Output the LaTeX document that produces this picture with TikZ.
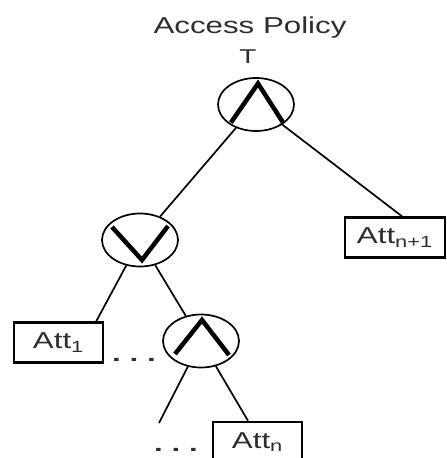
\documentclass[tikz,border=0pt]{standalone}
\usepackage{fontspec}
\setmainfont{Liberation Sans}
\usetikzlibrary{shapes.geometric}
\begin{document}
\begin{tikzpicture}[x=1pt,y=-1pt,
  gate/.style={ellipse, draw, line width=1.7pt, minimum width=76pt, minimum height=53pt, inner sep=0pt},
  attbox/.style={rectangle, draw=black, line width=2.4pt, minimum height=40pt, inner sep=0pt},
  edge/.style={line width=1.7pt},
  glyph/.style={line width=4.5pt, line cap=butt, line join=miter},
  lbl/.style={inner sep=0pt, text=black!82, font=\fontsize{23}{26}\selectfont}
]
\useasboundingbox (0,0) rectangle (447,458);
\clip (0,0) rectangle (447,458);
% title
\node[lbl, anchor=base] (title) at (250,33) {\scalebox{1.36}[1]{Access Policy}};
\node[lbl, anchor=base, font=\fontsize{20}{23}\selectfont] (tlabel) at (248,63) {\scalebox{1.4}[1]{T}};
% gates
\node[gate] (andtop) at (256,104.5) {};
\node[gate] (or) at (140,240) {};
\node[gate] (andin) at (201,341) {};
\draw[glyph] ([shift={(-25,18)}]andtop.center) -- ([shift={(2,-21)}]andtop.center) -- ([shift={(27,18)}]andtop.center);
\draw[glyph] ([shift={(-28,-13)}]or.center) -- ([shift={(2,20)}]or.center) -- ([shift={(28,-14)}]or.center);
\draw[glyph] ([shift={(-26,13)}]andin.center) -- ([shift={(1,-21)}]andin.center) -- ([shift={(28,14)}]andin.center);
% attribute boxes
\node[attbox, minimum width=89pt, lbl] (att1) at (58.5,342.5) {\scalebox{1.36}[1]{Att\textsubscript{1}}};
\node[attbox, minimum width=100pt, lbl] (attn1) at (395,237.5) {\scalebox{1.36}[1]{Att\textsubscript{n+1}}};
\node[attbox, minimum width=89pt, lbl] (attn) at (257.5,442) {\scalebox{1.36}[1]{Att\textsubscript{n}}};
% dots
\node[lbl, anchor=base, font=\fontsize{21}{24}\selectfont\bfseries] (dots1) at (134,361) {\scalebox{1.5}[1]{.\ .\ .}};
\node[lbl, anchor=base, font=\fontsize{21}{24}\selectfont\bfseries] (dots2) at (176,451) {\scalebox{1.5}[1]{.\ .\ .}};
% connectors
\coordinate (free) at (159,423);
\draw[edge] (andtop) -- (or);
\draw[edge] (andtop) -- ([xshift=7pt]attn1.north);
\draw[edge] (or) -- ([xshift=-8pt]att1.north east);
\draw[edge] (or) -- (andin);
\draw[edge] (andin) -- (free);
\draw[edge] (andin) -- ([xshift=-9.5pt]attn.north);
\end{tikzpicture}
\end{document}
